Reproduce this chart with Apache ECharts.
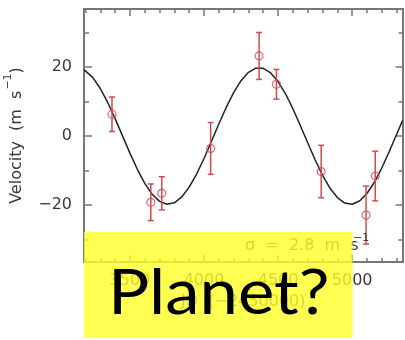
<!DOCTYPE html>
<html>
<head>
<meta charset="utf-8">
<script src="https://cdn.jsdelivr.net/npm/echarts@6/dist/echarts.min.js"></script>
<style>
  html, body { margin: 0; padding: 0; background: #fff; }
  #chart { width: 405px; height: 340px; }
</style>
</head>
<body>
<div id="chart"></div>
<script>
// Radial-velocity observations (JD - 2450000, m/s, 1-sigma error)
var obsTime = [3379, 3641, 3715, 4045, 4372, 4489, 4791, 5094, 5156];
var obsVel  = [6.3, -19.2, -16.6, -3.6, 23.2, 15.0, -10.3, -22.9, -11.6];
var obsErr  = [5.0, 5.3, 4.8, 7.5, 6.8, 4.3, 7.6, 8.4, 7.2];

// Orbital fit curve, sampled every 50 days along the time axis
var fitTime = [3190, 3250, 3300, 3350, 3400, 3450, 3500, 3550, 3600, 3650, 3700, 3750,
               3800, 3850, 3900, 3950, 4000, 4050, 4100, 4150, 4200, 4250, 4300, 4350,
               4400, 4450, 4500, 4550, 4600, 4650, 4700, 4750, 4800, 4850, 4900, 4950,
               5000, 5050, 5100, 5150, 5200, 5250, 5300, 5340];
var fitVel  = [19.23, 16.92, 13.77, 9.72, 5.05, 0.05, -4.95, -9.64, -13.70, -16.86, -18.94, -19.78,
               -19.35, -17.65, -14.82, -11.01, -6.50, -1.57, 3.47, 8.28, 12.56, 16.02, 18.44, 19.66,
               19.61, 18.29, 15.78, 12.24, 7.92, 3.07, -1.97, -6.88, -11.35, -15.08, -17.83, -19.43,
               -19.76, -18.81, -16.65, -13.40, -9.28, -4.56, 0.46, 4.46];

// Axis ticks
var xMajorTicks = [3500, 4000, 4500, 5000];
var xMinorTicks = [3200, 3300, 3400, 3600, 3700, 3800, 3900, 4100, 4200, 4300, 4400,
                   4600, 4700, 4800, 4900, 5100, 5200, 5300];
var yMajorTicks = [-20, 0, 20];
var yMinorTicks = [-30, -10, 10, 30];

var rmsText = 'σ  =  2.8  m  s';
var rmsUnitExp = '−1';
var overlayText = 'Planet?';

var FONT = 'DejaVu Sans';
var AXIS_COLOR = '#777';
var TEXT_COLOR = '#3a3a3a';
var RED = '#d24a4f';

var X_MIN = 3190, X_MAX = 5340, Y_MIN = -36.5, Y_MAX = 36.8;

function xAxisDef(position, ticks, len, withLabels) {
  var a = {
    type: 'value', position: position, min: X_MIN, max: X_MAX,
    axisLine: { show: true, onZero: false, lineStyle: { color: AXIS_COLOR, width: 2 } },
    axisTick: { show: true, inside: true, length: len, customValues: ticks,
                lineStyle: { color: AXIS_COLOR, width: 1.5 } },
    axisLabel: { show: false },
    splitLine: { show: false }
  };
  if (withLabels) {
    a.axisLabel = { show: true, customValues: ticks, margin: 11, color: TEXT_COLOR,
                    fontFamily: FONT, fontSize: 16, hideOverlap: false,
                    formatter: function (v) { return String(v); } };
    a.name = 'JD  (−2450000)';
    a.nameLocation = 'middle';
    a.nameGap = 30;
    a.nameTextStyle = { color: TEXT_COLOR, fontFamily: FONT, fontSize: 16 };
  }
  return a;
}

function yAxisDef(position, ticks, len, withLabels) {
  var a = {
    type: 'value', position: position, min: Y_MIN, max: Y_MAX,
    axisLine: { show: true, onZero: false, lineStyle: { color: AXIS_COLOR, width: 2 } },
    axisTick: { show: true, inside: true, length: len, customValues: ticks,
                lineStyle: { color: AXIS_COLOR, width: 1.5 } },
    axisLabel: { show: false },
    splitLine: { show: false }
  };
  if (withLabels) {
    a.axisLabel = { show: true, customValues: ticks, margin: 12, color: TEXT_COLOR,
                    fontFamily: FONT, fontSize: 16,
                    formatter: function (v) { return v < 0 ? '−' + Math.abs(v) : String(v); } };
    a.name = '{b|Velocity  (m  s}{s|−1}{b|)}';
    a.nameLocation = 'middle';
    a.nameRotate = 90;
    a.nameGap = 59;
    a.nameTextStyle = {
      color: TEXT_COLOR, fontFamily: FONT, fontSize: 16,
      rich: {
        b: { fontFamily: FONT, fontSize: 16, color: TEXT_COLOR, lineHeight: 22, verticalAlign: 'bottom' },
        s: { fontFamily: FONT, fontSize: 11, color: TEXT_COLOR, lineHeight: 22, verticalAlign: 'top', padding: [0, 0, 0, 1] }
      }
    };
  }
  return a;
}

var obsPoints = obsTime.map(function (t, i) { return [t, obsVel[i]]; });
var obsBars = obsTime.map(function (t, i) { return [t, obsVel[i] - obsErr[i], obsVel[i] + obsErr[i]]; });
var fitLine = fitTime.map(function (t, i) { return [t, fitVel[i]]; });

var chart = echarts.init(document.getElementById('chart'), null, { renderer: 'canvas' });

chart.setOption({
  animation: false,
  backgroundColor: '#fff',
  grid: { left: 84, right: 2.5, top: 9, bottom: 78, containLabel: false, outerBoundsMode: 'none' },
  xAxis: [
    xAxisDef('bottom', xMajorTicks, 7, true),
    xAxisDef('bottom', xMinorTicks, 4, false),
    xAxisDef('top', xMajorTicks, 7, false),
    xAxisDef('top', xMinorTicks, 4, false)
  ],
  yAxis: [
    yAxisDef('left', yMajorTicks, 8, true),
    yAxisDef('left', yMinorTicks, 5, false),
    yAxisDef('right', yMajorTicks, 7, false),
    yAxisDef('right', yMinorTicks, 4, false)
  ],
  series: [
    {
      type: 'line', xAxisIndex: 0, yAxisIndex: 0,
      data: fitLine, smooth: false, showSymbol: false, silent: true,
      lineStyle: { color: '#222', width: 1.5 }, z: 3
    },
    {
      type: 'custom', xAxisIndex: 0, yAxisIndex: 0, data: obsBars, z: 4,
      renderItem: function (params, api) {
        var lo = api.coord([api.value(0), api.value(1)]);
        var hi = api.coord([api.value(0), api.value(2)]);
        var cap = 3;
        var st = { stroke: RED, lineWidth: 1.5 };
        return {
          type: 'group',
          children: [
            { type: 'line', shape: { x1: lo[0], y1: lo[1], x2: hi[0], y2: hi[1] }, style: st },
            { type: 'line', shape: { x1: lo[0] - cap, y1: lo[1], x2: lo[0] + cap, y2: lo[1] }, style: st },
            { type: 'line', shape: { x1: hi[0] - cap, y1: hi[1], x2: hi[0] + cap, y2: hi[1] }, style: st }
          ]
        };
      }
    },
    {
      type: 'scatter', xAxisIndex: 0, yAxisIndex: 0, data: obsPoints, z: 5,
      symbol: 'circle', symbolSize: 8,
      itemStyle: { color: 'rgba(0,0,0,0)', borderColor: RED, borderWidth: 1.2 }
    }
  ],
  graphic: [
    {
      type: 'text', z: 10, x: 245, y: 246,
      style: { text: rmsText, fill: TEXT_COLOR, font: '16px "DejaVu Sans"',
               verticalAlign: 'middle', align: 'left' }
    },
    {
      type: 'text', z: 10, x: 353, y: 238,
      style: { text: rmsUnitExp, fill: TEXT_COLOR, font: '11px "DejaVu Sans"',
               verticalAlign: 'middle', align: 'left' }
    },
    {
      type: 'rect', z: 50,
      shape: { x: 84, y: 232, width: 268.5, height: 106 },
      style: { fill: 'rgba(255,255,40,0.8)' }
    },
    {
      type: 'text', z: 60, x: 108, y: 294, scaleX: 1.11, originX: 0, originY: 0,
      style: {
        text: overlayText, fill: '#000',
        font: '62px Lato', verticalAlign: 'middle', align: 'left'
      }
    }
  ]
});
</script>
</body>
</html>
